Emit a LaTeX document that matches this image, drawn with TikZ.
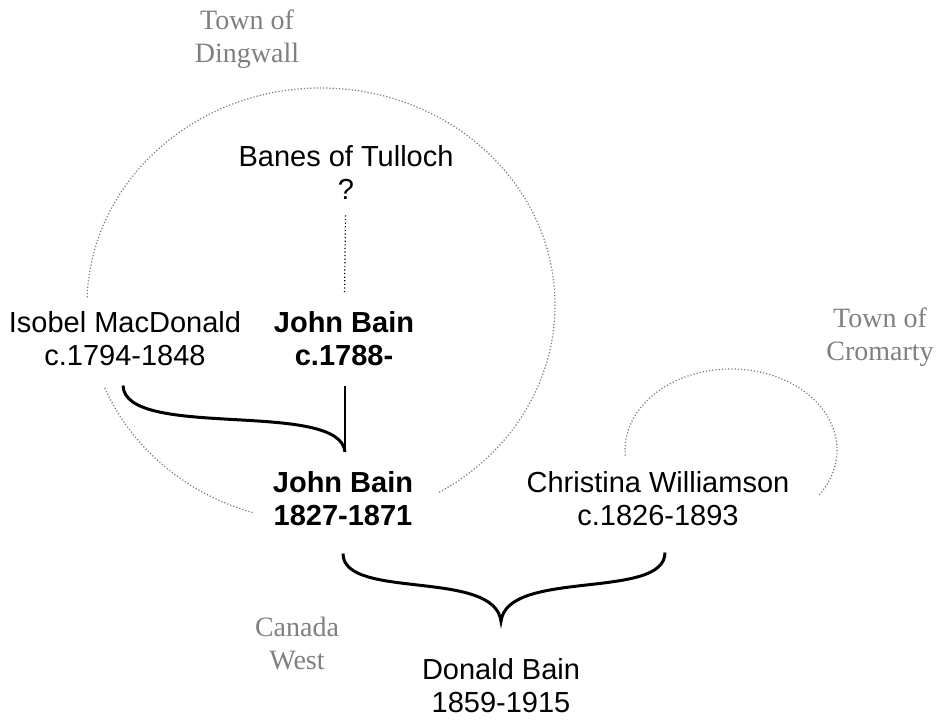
\documentclass[tikz,border=0pt]{standalone}
\usepackage{fontspec}
\setmainfont{Liberation Serif}
\newfontfamily\arialfont{Liberation Sans}
\usetikzlibrary{positioning}
\definecolor{placegray}{HTML}{808080}
\definecolor{regiongray}{HTML}{7A7A7A}

\begin{document}
\begin{tikzpicture}[
        x = 0.5pt, y = -0.5pt,
   person/.style = {font=\arialfont\fontsize{14.5}{16.5}\selectfont,
                    align=center, inner sep=0pt},
  heir/.style    = {person, font=\arialfont\bfseries\fontsize{14.5}{16.5}\selectfont},
    place/.style = {font=\fontsize{14}{16.5}\selectfont, text=placegray,
                    align=center, inner sep=0pt},
   region/.style = {draw=regiongray, line width=0.6pt,
                    dash pattern=on 0.6pt off 1pt},
  descent/.style = {line width=1.5pt},
                   ]
\useasboundingbox (0,0) rectangle (946,721);
% places
\node[place] (dingwall) at (247,39)  {Town of\\Dingwall};
\node[place] (cromarty) at (880,337) {Town of\\Cromarty};
\node[place] (canada)   at (297,643) {Canada\\West};
% town outlines
\coordinate (dw) at (321,305);
\draw[region] ([shift={(182:234 and 217)}]dw) arc[start angle=182, end angle=420, x radius=234, y radius=217];
\draw[region] ([shift={(107:234 and 217)}]dw) arc[start angle=107, end angle=158, x radius=234, y radius=217];
\coordinate (cr) at (731,450);
\draw[region] ([shift={(176:106 and 81)}]cr) arc[start angle=176, end angle=394, x radius=106, y radius=81];
% people
\node[person] (banes)     at (346,172) {Banes of Tulloch\\?};
\node[person] (isobel)    at (125,339) {Isobel MacDonald\\c.1794-1848};
\node[heir]   (jbsr)      at (344,339) {John Bain\\c.1788-};
\node[heir]   (jbjr)      at (343,499) {John Bain\\1827-1871};
\node[person] (christina) at (658,499) {Christina Williamson\\c.1826-1893};
\node[person] (donald)    at (501,686) {Donald Bain\\1859-1915};
% lines of descent
\draw[dash pattern=on 0.6pt off 1.2pt, line width=0.6pt, shorten <=8pt, shorten >=9.5pt] (banes) -- (jbsr);
\coordinate (join) at ([xshift=1pt, yshift=9.75pt]jbjr.north);
\draw[line width=0.7pt, shorten <=9.5pt] (jbsr.south -| join) -- (join);
\coordinate (isostart) at ([xshift=-1pt, yshift=-9.5pt]isobel.south);
\draw[descent] (isostart) .. controls +(2,55) and +(-5,-53) .. (join);
% brace to the son
\coordinate (bl)  at ([yshift=-13.5pt]jbjr.south);
\coordinate (br)  at ([xshift=3.5pt, yshift=-13pt]christina.south);
\coordinate (tip) at ([yshift=18.5pt]donald.north);
\draw[descent] (bl) .. controls +(0,47) and +(-6,-53) .. (tip)
                    .. controls +(6,-53) and +(0,48) .. (br);
\end{tikzpicture}
\end{document}
